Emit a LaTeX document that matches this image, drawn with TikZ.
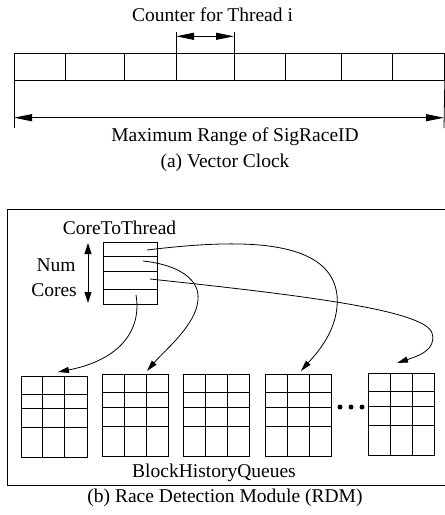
\documentclass[tikz,border=0pt]{standalone}
\usepackage{fontspec}
\setmainfont{Liberation Serif}
\usetikzlibrary{arrows.meta}
\begin{document}
\begin{tikzpicture}[x=1pt,y=-1pt,line width=0.8pt,
  lbl/.style={font=\fontsize{19.5}{23}\selectfont, inner sep=0pt, anchor=base},
  bigtips/.style={{Triangle[length=18pt,width=7pt]}-{Triangle[length=18pt,width=7pt]}},
  smalltips/.style={{Triangle[length=11pt,width=7pt]}-{Triangle[length=11pt,width=7pt]}},
  curvearrow/.style={-{Triangle[length=11pt,width=6pt]}},
  box/.style={draw, inner sep=0pt, anchor=north west},
]
\useasboundingbox (0,0) rectangle (445,515);

% ---------- (a) Vector Clock ----------
\node[lbl] (ctr) at (212.5,21) {Counter for Thread i};
\node[box, minimum width=430pt, minimum height=27pt] (vec) at (14,53) {};
\foreach \x in {65.5,124,176,234,285.5,341,392.5}
  \draw (\x,53) -- (\x,80);
\coordinate (ctl) at (176,32);
\coordinate (ctr2) at (234,32);
\draw (ctl) -- (176,53);
\draw (ctr2) -- (234,53);
\coordinate (cal) at (176,36.3);
\coordinate (car) at (234,36.3);
\draw[bigtips] (cal) -- (car);

\coordinate (ml) at (14,128);
\coordinate (mr) at (444,128);
\draw (vec.south west) -- (ml);
\draw (vec.south east) -- (mr);
\coordinate (mal) at (14,117.7);
\coordinate (mar) at (444,117.7);
\draw[bigtips] (mal) -- (mar);
\node[lbl] (maxr) at (235,141.5) {Maximum Range of SigRaceID};
\node[lbl] (capa) at (225,167) {(a) Vector Clock};

% ---------- (b) Race Detection Module ----------
\node[box, minimum width=437.5pt, minimum height=276pt] (rdm) at (7,209.3) {};
\node[lbl] (c2tl) at (119.5,234) {CoreToThread};
\node[box, minimum width=54pt, minimum height=62pt] (c2t) at (103,242.3) {};
\foreach \y in {256.7,271.7,289}
  \draw (103,\y) -- (157,\y);
\coordinate (nct) at (88,243);
\coordinate (ncb) at (88,303);
\draw[smalltips] (nct) -- (ncb);
\node[lbl] (num) at (56,271.7) {Num};
\node[lbl] (cores) at (54,296.7) {Cores};

% queues
\foreach \i/\qx/\qy in {1/20.5/375.5, 2/102/374.3, 3/183/374.3, 4/265/374.3, 5/368.3/373.3}{
  \node[box, minimum width=66pt, minimum height=81.5pt] (q\i) at (\qx,\qy) {};
  \foreach \dx in {22,44}
    \draw (\qx+\dx,\qy) -- (\qx+\dx,\qy+81.5);
  \foreach \dy in {18.5,33.3,52}
    \draw (\qx,\qy+\dy) -- (\qx+66,\qy+\dy);
}
\foreach \x [count=\k] in {340,351,362}
  \fill (\x,407) circle (2.5pt) node (dot\k) {};
\node[lbl] (bhq) at (214,477.7) {BlockHistoryQueues};
\node[lbl] (capb) at (225,502) {(b) Race Detection Module (RDM)};

% connectors
\coordinate (s1) at (147,250);
\coordinate (s2) at (143,261);
\coordinate (s3) at (150,279);
\coordinate (s4) at (136,295);
\coordinate (t1) at (58,372);
\coordinate (t2) at (147,371);
\coordinate (t4) at (301,371);
\coordinate (t5) at (397,363);
\draw[curvearrow] (s1) .. controls (230,240) and (330,235) .. (337,295)
  .. controls (340,330) and (315,355) .. (t4);
\draw[curvearrow] (s2) .. controls (180,265) and (200,280) .. (198,300)
  .. controls (196,325) and (165,350) .. (t2);
\draw[curvearrow] (s3) .. controls (300,295) and (425,310) .. (432,333)
  .. controls (437,350) and (418,356) .. (t5);
\draw[curvearrow] (s4) .. controls (142,330) and (120,360) .. (t1);
\end{tikzpicture}
\end{document}
